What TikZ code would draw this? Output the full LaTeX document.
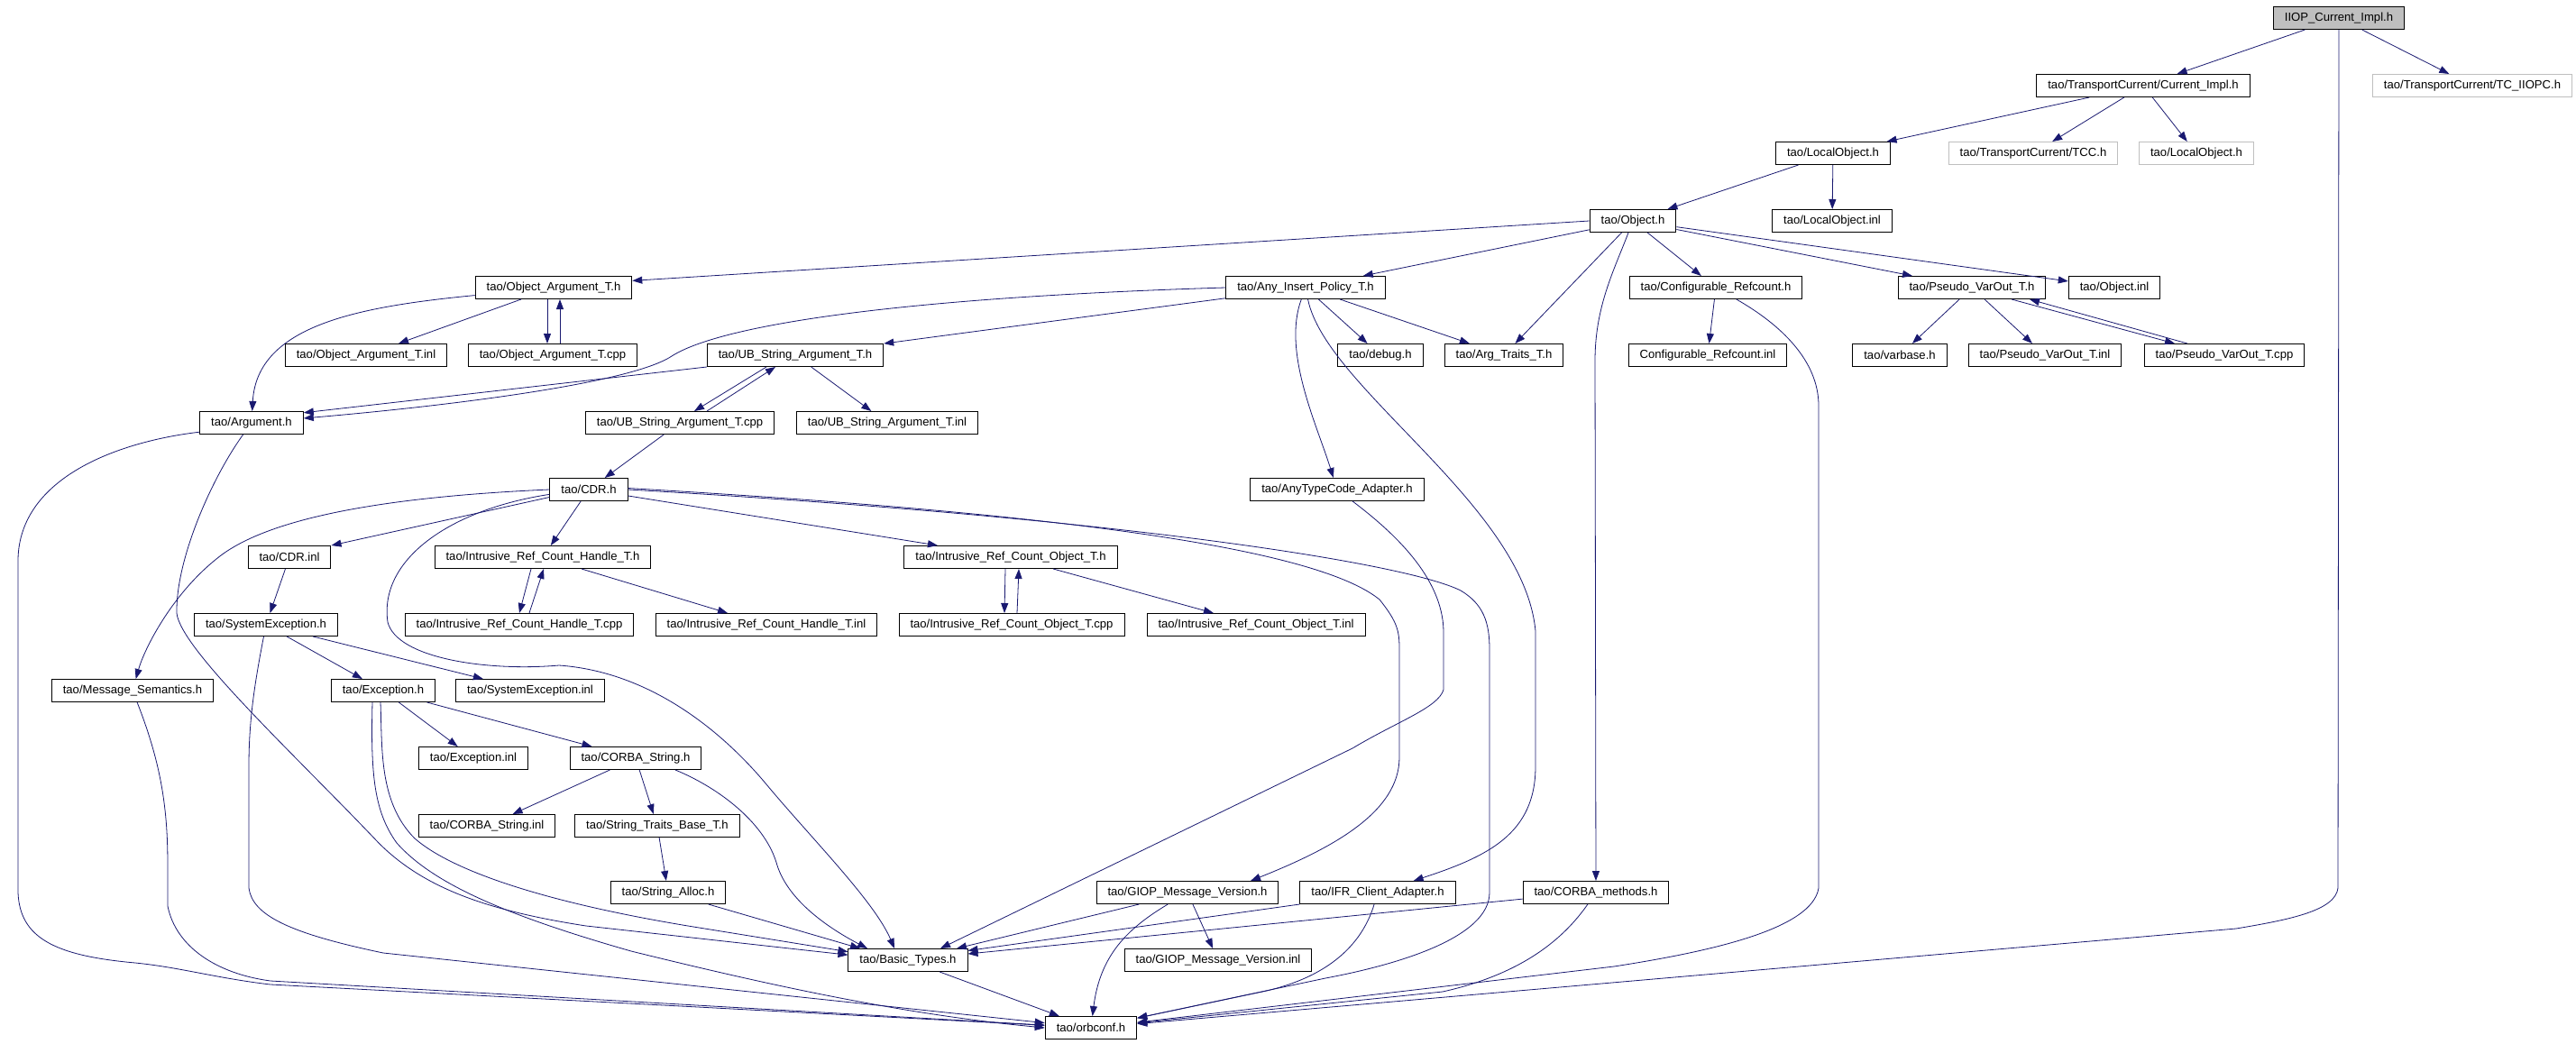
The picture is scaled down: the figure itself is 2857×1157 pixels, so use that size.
\documentclass[tikz,border=0pt]{standalone}
\usepackage{fontspec}
\setmainfont{Liberation Sans}
\usetikzlibrary{arrows.meta}
\definecolor{edgeblue}{HTML}{191970}
\definecolor{missgray}{HTML}{BFBFBF}
\begin{document}
\begin{tikzpicture}[x=1pt, y=-1pt,
  every node/.style={draw, line width=1pt, fill=white, minimum height=25pt, inner xsep=12.5pt, inner ysep=0pt, font=\fontsize{13.1}{15}\selectfont},
  missing/.style={draw=missgray},
  rootbox/.style={fill=missgray},
  edge/.style={draw=edgeblue, line width=0.8pt, -{Triangle[length=11pt,width=8pt]}}]
\useasboundingbox (0,0) rectangle (2857,1157);
\node[rootbox] (root) at (2594, 20) {IIOP\_Current\_Impl.h};
\node (cimpl) at (2377, 95) {tao/TransportCurrent/Current\_Impl.h};
\node[missing] (tciiopc) at (2742, 95) {tao/TransportCurrent/TC\_IIOPC.h};
\node (lobj) at (2033, 170) {tao/LocalObject.h};
\node[missing] (tcc) at (2255, 170) {tao/TransportCurrent/TCC.h};
\node[missing] (lobjb) at (2436, 170) {tao/LocalObject.h};
\node (object) at (1811, 245) {tao/Object.h};
\node (lobjinl) at (2032, 245) {tao/LocalObject.inl};
\node (objarg) at (614, 319) {tao/Object\_Argument\_T.h};
\node (anyins) at (1448, 319) {tao/Any\_Insert\_Policy\_T.h};
\node (confref) at (1903, 319) {tao/Configurable\_Refcount.h};
\node (pseudo) at (2187, 319) {tao/Pseudo\_VarOut\_T.h};
\node (objinl) at (2345, 319) {tao/Object.inl};
\node (objarginl) at (406, 394) {tao/Object\_Argument\_T.inl};
\node (objargcpp) at (613, 394) {tao/Object\_Argument\_T.cpp};
\node (ubarg) at (882, 394) {tao/UB\_String\_Argument\_T.h};
\node (debug) at (1531, 394) {tao/debug.h};
\node (argtraits) at (1668, 394) {tao/Arg\_Traits\_T.h};
\node (confrefinl) at (1894, 394) {Configurable\_Refcount.inl};
\node (varbase) at (2107, 394) {tao/varbase.h};
\node (pseudoinl) at (2268, 394) {tao/Pseudo\_VarOut\_T.inl};
\node (pseudocpp) at (2467, 394) {tao/Pseudo\_VarOut\_T.cpp};
\node (argument) at (279, 469) {tao/Argument.h};
\node (ubargcpp) at (754, 469) {tao/UB\_String\_Argument\_T.cpp};
\node (ubarginl) at (984, 469) {tao/UB\_String\_Argument\_T.inl};
\node (cdr) at (653, 543) {tao/CDR.h};
\node (anytc) at (1483, 543) {tao/AnyTypeCode\_Adapter.h};
\node (cdrinl) at (321, 618) {tao/CDR.inl};
\node (irchh) at (602, 618) {tao/Intrusive\_Ref\_Count\_Handle\_T.h};
\node (ircoh) at (1121, 618) {tao/Intrusive\_Ref\_Count\_Object\_T.h};
\node (sysexc) at (295, 693) {tao/SystemException.h};
\node (irchcpp) at (576, 693) {tao/Intrusive\_Ref\_Count\_Handle\_T.cpp};
\node (irchinl) at (850, 693) {tao/Intrusive\_Ref\_Count\_Handle\_T.inl};
\node (ircocpp) at (1122, 693) {tao/Intrusive\_Ref\_Count\_Object\_T.cpp};
\node (ircoinl) at (1393, 693) {tao/Intrusive\_Ref\_Count\_Object\_T.inl};
\node (msgsem) at (147, 766) {tao/Message\_Semantics.h};
\node (exc) at (425, 766) {tao/Exception.h};
\node (sysexcinl) at (588, 766) {tao/SystemException.inl};
\node (excinl) at (525, 841) {tao/Exception.inl};
\node (cstr) at (705, 841) {tao/CORBA\_String.h};
\node (cstrinl) at (540, 916) {tao/CORBA\_String.inl};
\node (strtraits) at (729, 916) {tao/String\_Traits\_Base\_T.h};
\node (stralloc) at (741, 990) {tao/String\_Alloc.h};
\node (giop) at (1317, 990) {tao/GIOP\_Message\_Version.h};
\node (ifr) at (1528, 990) {tao/IFR\_Client\_Adapter.h};
\node (corbam) at (1770, 990) {tao/CORBA\_methods.h};
\node (basic) at (1007, 1065) {tao/Basic\_Types.h};
\node (giopinl) at (1351, 1065) {tao/GIOP\_Message\_Version.inl};
\node (orbconf) at (1210, 1140) {tao/orbconf.h};

\draw[edge] (root) -- (cimpl);
\draw[edge] (root) -- (tciiopc);
\draw[edge] (root) -- (2593,985) .. controls (2590,1010) and (2540,1020) .. (2480,1030) -- (orbconf);
\draw[edge] (cimpl) -- (lobj);
\draw[edge] (cimpl) -- (tcc);
\draw[edge] (cimpl) -- (lobjb);
\draw[edge] (lobj) -- (object);
\draw[edge] (lobj) -- (lobjinl);
\draw[edge] (object.west) -- (objarg.5);
\draw[edge] (object) -- (anyins);
\draw[edge] (object) -- (argtraits);
\draw[edge] (object) -- (confref);
\draw[edge] (object) -- (pseudo);
\draw[edge] (object) -- (objinl);
\draw[edge] (object) .. controls (1790,300) and (1769,340) .. (1769,400) -- (corbam);
\draw[edge] (objarg) .. controls (400,340) and (285,360) .. (argument);
\draw[edge] (objarg) -- (objarginl);
\draw[edge] ([xshift=-7pt]objarg.south) -- ([xshift=-6pt]objargcpp.north);
\draw[edge] ([xshift=8pt]objargcpp.north) -- ([xshift=7pt]objarg.south);
\draw[edge] (anyins.west) .. controls (1000,330) and (800,360) .. (745,395) .. controls (700,425) and (500,450) .. (argument.5);
\draw[edge] (anyins) -- (ubarg);
\draw[edge] (anyins) -- (debug);
\draw[edge] (anyins) -- (argtraits);
\draw[edge] (anyins) .. controls (1422,390) and (1460,470) .. (anytc);
\draw[edge] (anyins) .. controls (1470,430) and (1690,560) .. (1703,700) -- (1703,850) .. controls (1703,925) and (1650,950) .. (ifr);
\draw[edge] (ubarg.south west) -- (argument.11);
\draw[edge] ([xshift=-32pt]ubarg.south) -- ([xshift=16pt]ubargcpp.north);
\draw[edge] ([xshift=30pt]ubargcpp.north) -- ([xshift=-22pt]ubarg.south);
\draw[edge] (ubarg) -- (ubarginl);
\draw[edge] (ubargcpp) -- (cdr);
\draw[edge] (argument.190) .. controls (130,490) and (22,530) .. (20,620) -- (20,990) .. controls (22,1040) and (60,1060) .. (150,1068) .. controls (200,1073) and (240,1085) .. (300,1092) -- (orbconf);
\draw[edge] (argument) .. controls (235,530) and (195,620) .. (196,680) .. controls (200,720) and (330,840) .. (420,935) .. controls (470,985) and (540,1010) .. (650,1027) -- (basic.175);
\draw[edge] (confref) -- (confrefinl);
\draw[edge] (confref) .. controls (1975,360) and (2017,400) .. (2017,450) -- (2017,985) .. controls (2010,1030) and (1900,1055) .. (1790,1072) -- (orbconf);
\draw[edge] (pseudo) -- (varbase);
\draw[edge] (pseudo) -- (pseudoinl);
\draw[edge] ([xshift=44pt]pseudo.south) -- ([xshift=-55pt]pseudocpp.north);
\draw[edge] ([xshift=-41pt]pseudocpp.north) -- ([xshift=64pt]pseudo.south);
\draw[edge] (cdr.191) -- (cdrinl.north east);
\draw[edge] (cdr) -- (irchh);
\draw[edge] (cdr) -- (ircoh);
\draw[edge] (cdr.west) .. controls (450,550) and (300,570) .. (240,620) .. controls (190,660) and (160,720) .. (msgsem);
\draw[edge] (cdr.187) .. controls (500,565) and (420,620) .. (430,690) .. controls (440,730) and (540,745) .. (620,738) .. controls (720,745) and (800,810) .. (850,870) .. controls (900,930) and (970,1000) .. ([xshift=-15pt]basic.north);
\draw[edge] (cdr.2) .. controls (1100,565) and (1450,600) .. (1530,665) .. controls (1550,690) and (1552,700) .. (1552,720) -- (1552,840) .. controls (1552,900) and (1480,940) .. ([xshift=70pt]giop.north);
\draw[edge] (cdr.0) .. controls (1250,575) and (1560,625) .. (1620,655) .. controls (1645,670) and (1652,690) .. (1652,720) -- (1652,990) .. controls (1652,1040) and (1550,1070) .. (1470,1085) -- (orbconf);
\draw[edge] ([xshift=-13pt]irchh.south) -- (irchcpp.north);
\draw[edge] ([xshift=11pt]irchcpp.north) -- ([xshift=1pt]irchh.south);
\draw[edge] (irchh) -- (irchinl);
\draw[edge] ([xshift=-6pt]ircoh.south) -- ([xshift=-8pt]ircocpp.north);
\draw[edge] ([xshift=6pt]ircocpp.north) -- ([xshift=9pt]ircoh.south);
\draw[edge] (ircoh) -- (ircoinl);
\draw[edge] (cdrinl) -- (sysexc);
\draw[edge] (sysexc) -- (exc);
\draw[edge] (sysexc) -- (sysexcinl);
\draw[edge] (sysexc) .. controls (282,760) and (276,800) .. (276,850) -- (276,985) .. controls (280,1015) and (320,1035) .. (425,1057) -- (orbconf);
\draw[edge] (msgsem) .. controls (180,850) and (186,900) .. (186,960) -- (186,1005) .. controls (195,1050) and (240,1080) .. (300,1088) -- (orbconf);
\draw[edge] (exc) -- (excinl);
\draw[edge] (exc) -- (cstr);
\draw[edge] ([xshift=-3pt]exc.south) .. controls (424,830) and (420,890) .. (460,930) .. controls (500,965) and (600,1000) .. (763,1027) -- (basic.172);
\draw[edge] ([xshift=-12pt]exc.south) .. controls (411,860) and (415,900) .. (440,935) .. controls (480,980) and (560,1015) .. (700,1055) .. controls (850,1092) and (1000,1125) .. (orbconf.west);
\draw[edge] (cstr) -- (cstrinl);
\draw[edge] (cstr) -- (strtraits);
\draw[edge] ([xshift=44pt]cstr.south) .. controls (800,875) and (850,915) .. (862,960) .. controls (875,1000) and (920,1030) .. ([xshift=-45pt]basic.north);
\draw[edge] (strtraits) -- (stralloc);
\draw[edge] (stralloc) -- ([xshift=-53pt]basic.north);
\draw[edge] (anytc) .. controls (1545,590) and (1600,640) .. (1601,700) -- (1601,765) .. controls (1595,785) and (1550,800) .. (1500,830) -- ([xshift=36pt]basic.north);
\draw[edge] (giop) -- ([xshift=54pt]basic.north);
\draw[edge] (giop) -- (giopinl);
\draw[edge] (giop) .. controls (1250,1030) and (1220,1060) .. (orbconf);
\draw[edge] (ifr.south west) -- (basic.9);
\draw[edge] (ifr) .. controls (1510,1050) and (1470,1085) .. (1400,1100) -- (orbconf);
\draw[edge] (corbam.185) -- (basic.6);
\draw[edge] (corbam) .. controls (1735,1040) and (1690,1080) .. (1600,1100) -- (orbconf);
\draw[edge] (basic) -- (orbconf);
\end{tikzpicture}
\end{document}
